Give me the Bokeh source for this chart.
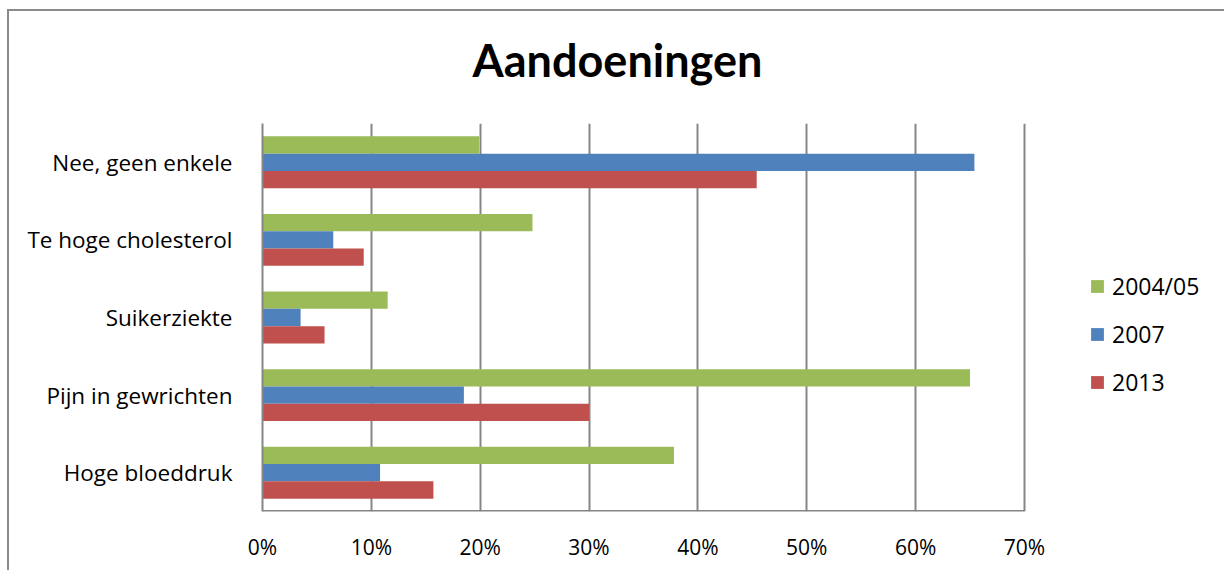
from bokeh.plotting import figure
from bokeh.models import (ColumnDataSource, FactorRange, Range1d, FixedTicker,
                          NumeralTickFormatter, Legend, LegendItem, Title)
from bokeh.transform import dodge
from bokeh.embed import file_html
from bokeh.resources import INLINE

# Conditions (bottom to top on the axis) and the share reporting each, per survey year
categories = ["Hoge bloeddruk", "Pijn in gewrichten", "Suikerziekte",
              "Te hoge cholesterol", "Nee, geen enkele"]
years = ["2004/05", "2007", "2013"]
share_2004 = [0.378, 0.650, 0.115, 0.248, 0.199]
share_2007 = [0.108, 0.185, 0.035, 0.065, 0.654]
share_2013 = [0.157, 0.300, 0.057, 0.093, 0.454]
x_ticks = [0.0, 0.1, 0.2, 0.3, 0.4, 0.5, 0.6, 0.7]
axis_max = 0.7

colors = {"2004/05": "#9BBB59", "2007": "#4F81BD", "2013": "#C0504D"}
GRID = "#868686"
LABEL_FONT = "Open Sans"
TITLE_FONT = "Lato"

source = ColumnDataSource(dict(cat=categories, y2004=share_2004,
                               y2007=share_2007, y2013=share_2013))

# The frame runs on to the right edge so the legend can sit beside the bars;
# the value axis itself stops at 70%.
p = figure(width=1217, height=561, output_backend="svg", toolbar_location=None,
           y_range=FactorRange(*categories, range_padding=0),
           x_range=Range1d(0, 0.8856),
           min_border_left=253, min_border_right=0,
           min_border_top=112, min_border_bottom=61,
           margin=(9, 0, 0, 7),
           styles={"border-left": "2px solid #8a8a8a", "border-top": "2px solid #8a8a8a"})

# a blank spacer panel keeps the heading clear of the bars
p.add_layout(Title(text=" ", text_font_size="2px", standoff=33), "above")
p.add_layout(Title(text="Aandoeningen", align="left", offset=210, standoff=0,
                   vertical_align="bottom",
                   text_font=TITLE_FONT, text_font_size="45px", text_font_style="bold",
                   text_color="#000000"), "above")

bh = 0.223
r1 = p.hbar(y=dodge("cat", bh, range=p.y_range), right="y2004", height=bh, left=0,
            source=source, fill_color=colors["2004/05"], line_color=None)
r2 = p.hbar(y=dodge("cat", 0.0, range=p.y_range), right="y2007", height=bh, left=0,
            source=source, fill_color=colors["2007"], line_color=None)
r3 = p.hbar(y=dodge("cat", -bh, range=p.y_range), right="y2013", height=bh, left=0,
            source=source, fill_color=colors["2013"], line_color=None)

# value-axis baseline from 0% to 70%
p.segment(x0=[0], x1=[axis_max], y0=[0], y1=[0], line_color=GRID, line_width=3)

legend = Legend(items=[LegendItem(label=years[0], renderers=[r1]),
                       LegendItem(label=years[1], renderers=[r2]),
                       LegendItem(label=years[2], renderers=[r3])],
                location=(827, 113), orientation="vertical",
                glyph_width=16, glyph_height=16, label_height=24, spacing=16,
                label_standoff=7, padding=10, margin=0,
                label_text_font=LABEL_FONT, label_text_font_size="23px",
                label_text_color="#000000",
                border_line_color=None, background_fill_color=None)
p.add_layout(legend, "center")

# x axis: percentages with vertical gridlines
p.xaxis.ticker = FixedTicker(ticks=x_ticks)
p.xaxis.formatter = NumeralTickFormatter(format="0%")
p.xaxis.major_label_text_font = LABEL_FONT
p.xaxis.major_label_text_font_size = "21px"
p.xaxis.major_label_text_color = "#000000"
p.xaxis.major_label_standoff = 15
p.xaxis.axis_line_color = None
p.xaxis.major_tick_line_color = None
p.xaxis.minor_tick_line_color = None

p.yaxis.major_label_text_font = LABEL_FONT
p.yaxis.major_label_text_font_size = "22.5px"
p.yaxis.major_label_text_color = "#000000"
p.yaxis.major_label_standoff = 24
p.yaxis.axis_line_color = GRID
p.yaxis.axis_line_width = 2
p.yaxis.major_tick_line_color = None
p.yaxis.minor_tick_line_color = None

p.xgrid.grid_line_color = GRID
p.xgrid.grid_line_width = 2
p.ygrid.grid_line_color = None
p.outline_line_color = None

open("out.html", "w").write(file_html(p, INLINE))
